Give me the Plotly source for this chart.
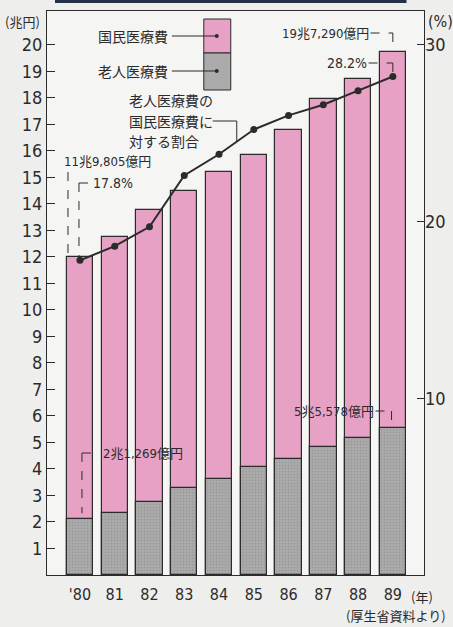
import plotly.graph_objects as go

# ---- data ----
years = ["'80", "81", "82", "83", "84", "85", "86", "87", "88", "89"]
national_cost = [11.98, 12.75, 13.75, 14.5, 15.2, 15.85, 16.8, 17.95, 18.7, 19.73]   # 国民医療費 (兆円)
elderly_cost = [2.13, 2.34, 2.74, 3.3, 3.63, 4.06, 4.39, 4.81, 5.18, 5.56]          # 老人医療費 (兆円)
elderly_share = [17.8, 18.6, 19.7, 22.6, 23.8, 25.2, 26.0, 26.6, 27.4, 28.2]         # 割合 (%)
left_ticks = list(range(1, 21))
right_ticks = [10, 20, 30]

W, H = 453, 627
L, R, T, B = 47, 424.5, 11, 575
XR = [-0.948, 9.896]
YR = [0, 21.27]
Y2R = [0, YR[1] * 1.5]

def px(xp):
    return (xp - L) / (R - L)

def py(yp):
    return (B - yp) / (B - T)

def dx(xp):
    return XR[0] + (xp - L) / (R - L) * (XR[1] - XR[0])

def dy(yp):
    return YR[0] + (B - yp) / (B - T) * (YR[1] - YR[0])

def dy2(yp):
    return Y2R[0] + (B - yp) / (B - T) * (Y2R[1] - Y2R[0])

NUM = "Liberation Sans Narrow, DejaVu Sans Condensed, Noto Sans CJK JP, sans-serif"
JP = "Noto Sans CJK JP, sans-serif"
INK = "#2b2b2b"
PINK = "#e7a1c5"
GREY = "#ababab"

x = list(range(len(years)))

fig = go.Figure()
fig.add_trace(go.Bar(
    x=x, y=national_cost, width=0.76, name="国民医療費",
    marker=dict(color=PINK, line=dict(color=INK, width=1.2)),
    showlegend=False, hoverinfo="skip"))
fig.add_trace(go.Bar(
    x=x, y=elderly_cost, width=0.76, name="老人医療費",
    marker=dict(color=GREY, line=dict(color=INK, width=1.2),
                pattern=dict(shape=".", fgcolor="#8a8a8a", bgcolor=GREY, size=3, solidity=0.3)),
    showlegend=False, hoverinfo="skip"))
fig.add_trace(go.Scatter(
    x=x, y=elderly_share, yaxis="y2", mode="lines+markers",
    line=dict(color=INK, width=2), marker=dict(color=INK, size=7),
    showlegend=False, hoverinfo="skip"))

shapes = []
annos = []

def dash_line(x0, y0, x1, y1, yref="y"):
    shapes.append(dict(type="line", xref="x", yref=yref, x0=x0, y0=y0, x1=x1, y1=y1,
                       line=dict(color=INK, width=1, dash="dash")))

def text(xp, yp, s, size=13, anchor="left", font=NUM, yanchor="middle"):
    annos.append(dict(xref="paper", yref="paper", x=px(xp), y=py(yp), text=s,
                      showarrow=False, xanchor=anchor, yanchor=yanchor,
                      font=dict(family=font, size=size, color=INK)))

# 11兆9,805億円
text(62, 162, "11兆9,805億円", 13)
dash_line(dx(68), dy(172), dx(68), national_cost[0])
# 17.8%
text(91, 183, "17.8%", 14)
dash_line(dx(79), dy2(183), dx(90), dy2(183), "y2")
dash_line(dx(79), dy2(183), dx(79), elderly_share[0], "y2")
# 2兆1,269億円
text(101, 453, "2兆1,269億円", 13)
dash_line(dx(82), dy(453), dx(100), dy(453))
dash_line(dx(82), dy(453), dx(82), elderly_cost[0] + 0.2)
# 5兆5,578億円
text(376, 411, "5兆5,578億円", 13, "right")
dash_line(dx(376), dy(411), dx(392), dy(411))
dash_line(dx(392), dy(411), dx(392), elderly_cost[9] + 0.22)
# 19兆7,290億円
text(371, 33, "19兆7,290億円", 13, "right")
dash_line(dx(371), dy(33), 9, dy(33))
dash_line(9, dy(33), 9, national_cost[9])
# 28.2%
text(369, 63, "28.2%", 14, "right")
dash_line(dx(369), dy2(63), 9, dy2(63), "y2")
dash_line(9, dy2(63), 9, elderly_share[9], "y2")

# ratio label
for i, s in enumerate(["老人医療費の", "国民医療費に", "対する割合"]):
    text(127, 100 + i * 20.5, s, 14, font=JP)
xv = dx(237)
i0 = int(xv)
frac = xv - i0
yv = elderly_share[i0] + (elderly_share[i0 + 1] - elderly_share[i0]) * frac
shapes.append(dict(type="path", xref="x", yref="y2",
                   path=f"M {dx(213)},{dy2(121)} L {xv},{dy2(121)} L {xv},{yv}",
                   line=dict(color=INK, width=1)))

# legend box
shapes.append(dict(type="rect", xref="paper", yref="paper", x0=px(204), x1=px(231), y0=py(53), y1=py(19),
                   fillcolor=PINK, line=dict(color=INK, width=1)))
shapes.append(dict(type="rect", xref="paper", yref="paper", x0=px(204), x1=px(231), y0=py(90), y1=py(53),
                   fillcolor=GREY, line=dict(color=INK, width=1)))
for yy in (36, 71):
    shapes.append(dict(type="line", xref="paper", yref="paper", x0=px(172), x1=px(217), y0=py(yy), y1=py(yy),
                       line=dict(color=INK, width=1)))
    shapes.append(dict(type="circle", xref="paper", yref="paper", x0=px(215), x1=px(219), y0=py(yy + 2), y1=py(yy - 2),
                       fillcolor=INK, line=dict(color=INK, width=0)))
text(170, 36, "国民医療費", 14, "right", JP)
text(170, 71, "老人医療費", 14, "right", JP)

# dark band at top of page
shapes.append(dict(type="rect", xref="paper", yref="paper", x0=px(55), x1=px(407), y0=py(3), y1=py(0),
                   fillcolor="#27304a", line=dict(width=0)))

# unit labels
text(3, 22, "(兆円)", 13, font=JP)
text(427, 22, "(%)", 16)
text(409, 596, "(年)", 13, font=JP)
text(449, 627, "(厚生省資料より)", 13, "right", JP, "bottom")

fig.update_layout(
    width=W, height=H,
    margin=dict(l=L, r=W - R, t=T, b=H - B, pad=0, autoexpand=False),
    paper_bgcolor="#eeeeec", plot_bgcolor="#f5f5f3",
    barmode="overlay", bargap=0,
    shapes=shapes, annotations=annos,
    xaxis=dict(range=XR, tickvals=x, ticktext=years, showgrid=False, zeroline=False,
               showline=True, linecolor=INK, linewidth=1.2, mirror=True, ticks="",
               automargin=False, ticklabelstandoff=5,
               tickfont=dict(family=NUM, size=16, color=INK)),
    yaxis=dict(range=YR, tickvals=left_ticks, showgrid=False, zeroline=False,
               showline=True, linecolor=INK, linewidth=1.2, mirror=True,
               ticks="inside", ticklen=8, tickcolor=INK, tickwidth=1.2, automargin=False,
               tickfont=dict(family=NUM, size=18, color=INK)),
    yaxis2=dict(range=Y2R, tickvals=right_ticks, overlaying="y", side="right",
                showgrid=False, zeroline=False, showline=False, automargin=False,
                ticks="inside", ticklen=7, tickcolor=INK, tickwidth=1.2,
                tickfont=dict(family=NUM, size=18, color=INK)),
)

fig.write_html("out.html", config={"displayModeBar": False},
               post_script="document.body.style.margin='0';document.body.style.background='#eeeeec';")
